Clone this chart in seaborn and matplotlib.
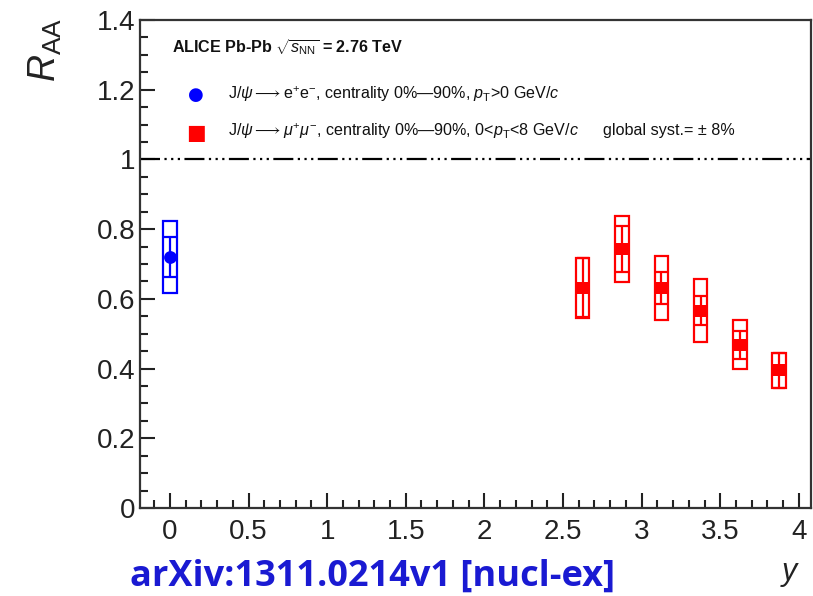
import numpy as np
import pandas as pd
import matplotlib
matplotlib.use("Agg")
import matplotlib.pyplot as plt
from matplotlib.patches import Rectangle
from matplotlib.ticker import MultipleLocator
import seaborn as sns

# ---- data ----
ee_y = [0.0]
ee_raa = [0.72]
ee_stat = [0.058]
ee_sys = [0.104]

mm_y = [2.625, 2.875, 3.125, 3.375, 3.625, 3.875]
mm_raa = [0.632, 0.743, 0.631, 0.566, 0.468, 0.395]
mm_stat = [0.085, 0.065, 0.046, 0.042, 0.040, 0.050]
mm_sys = [0.086, 0.096, 0.093, 0.090, 0.070, 0.050]

xticks = [0, 0.5, 1, 1.5, 2, 2.5, 3, 3.5, 4]
xticklabels = ["0", "0.5", "1", "1.5", "2", "2.5", "3", "3.5", "4"]
yticks = [0, 0.2, 0.4, 0.6, 0.8, 1.0, 1.2, 1.4]
yticklabels = ["0", "0.2", "0.4", "0.6", "0.8", "1", "1.2", "1.4"]

sns.set_style("ticks")
plt.rcParams['font.family'] = ['Liberation Sans', 'DejaVu Sans']
plt.rcParams['mathtext.fontset'] = 'custom'
plt.rcParams['mathtext.rm'] = 'Liberation Sans'
plt.rcParams['mathtext.it'] = 'Liberation Sans:italic'
plt.rcParams['mathtext.bf'] = 'Liberation Sans:bold'

W, H = 813, 596
fig = plt.figure(figsize=(W / 100, H / 100), dpi=100)
ax = fig.add_axes([140 / W, 1 - 508 / H, (811 - 140) / W, (508 - 20) / H])

BLUE = '#0000ff'
RED = '#ff0000'
bw = 0.043

df_ee = pd.DataFrame({'y': ee_y, 'raa': ee_raa})
df_mm = pd.DataFrame({'y': mm_y, 'raa': mm_raa})

# systematic boxes
for x, v, s in zip(ee_y, ee_raa, ee_sys):
    ax.add_patch(Rectangle((x - bw, v - s), 2 * bw, 2 * s, fill=False,
                           edgecolor=BLUE, linewidth=1.6, zorder=3))
for x, v, s in zip(mm_y, mm_raa, mm_sys):
    ax.add_patch(Rectangle((x - bw, v - s), 2 * bw, 2 * s, fill=False,
                           edgecolor=RED, linewidth=1.6, zorder=3))

# stat error bars
ax.errorbar(ee_y, ee_raa, yerr=ee_stat, fmt='none', ecolor=BLUE,
            elinewidth=1.6, capsize=4, capthick=1.6, zorder=4)
ax.errorbar(mm_y, mm_raa, yerr=mm_stat, fmt='none', ecolor=RED,
            elinewidth=1.6, capsize=4, capthick=1.6, zorder=4)

# markers
sns.scatterplot(data=df_ee, x='y', y='raa', ax=ax, marker='o', s=85,
                color=BLUE, edgecolor=BLUE, linewidth=0, zorder=5, legend=False)
sns.scatterplot(data=df_mm, x='y', y='raa', ax=ax, marker='s', s=80,
                color=RED, edgecolor=RED, linewidth=0, zorder=5, legend=False)

# reference line at 1
ax.axhline(1.0, color='black', linewidth=1.6,
           dashes=(9, 2, 1, 2, 1, 2, 1, 2), zorder=2)

ax.set_xlim(-0.19, 4.077)
ax.set_ylim(0, 1.4)
ax.set_xticks(xticks)
ax.set_xticklabels(xticklabels)
ax.set_yticks(yticks)
ax.set_yticklabels(yticklabels)
ax.xaxis.set_minor_locator(MultipleLocator(0.1))
ax.yaxis.set_minor_locator(MultipleLocator(0.05))
ax.tick_params(axis='both', which='major', direction='in', length=11,
               width=1.5, labelsize=20, labelcolor='#222222', color='#222222')
ax.tick_params(axis='both', which='minor', direction='in', length=6,
               width=1.5, color='#222222')
ax.tick_params(axis='x', which='major', pad=8)
ax.tick_params(axis='y', which='major', pad=3)
ax.set_xlabel('')
ax.set_ylabel('')
for side in ['left', 'bottom', 'top', 'right']:
    ax.spines[side].set_visible(True)
    ax.spines[side].set_linewidth(1.6)
    ax.spines[side].set_color('#333333')

# axis titles
fig.text(45 / W, 1 - 50 / H, r'$R_{\rm AA}$', rotation=90, ha='center',
         va='center', fontsize=27, color='#222222')
fig.text(790 / W, 1 - 574 / H, r'$y$', ha='center', va='center',
         fontsize=22, color='#222222')

# legend-like texts
LFS = 11.6
fig.text(172 / W, 1 - 47 / H, r'ALICE Pb-Pb $\sqrt{s_{\rm NN}}$ = 2.76 TeV',
         ha='left', va='center', fontsize=LFS, fontweight='bold', color='#111111')
fig.text(196 / W, 1 - 95 / H, '\u25cf', ha='center', va='center',
         fontsize=13, color=BLUE, family='DejaVu Sans')
fig.text(228 / W, 1 - 94 / H,
         r'J/$\psi\longrightarrow$e$^{+}$e$^{-}$, centrality 0%—90%, $p_{\rm T}$>0 GeV/$c$',
         ha='left', va='center', fontsize=LFS, color='#111111')
fig.text(196 / W, 1 - 133 / H, '\u25a0', ha='center', va='center',
         fontsize=15, color=RED, family='DejaVu Sans')
fig.text(228 / W, 1 - 131 / H,
         r'J/$\psi\longrightarrow\mu^{+}\mu^{-}$, centrality 0%—90%, 0<$p_{\rm T}$<8 GeV/$c$',
         ha='left', va='center', fontsize=LFS, color='#111111')
fig.text(603 / W, 1 - 131 / H, 'global syst.= \u00b1 8%',
         ha='left', va='center', fontsize=LFS, color='#111111')

# source note
fig.text(130 / W, 1 - 577 / H, 'arXiv:1311.0214v1 [nucl-ex]', ha='left',
         va='center', fontsize=26, fontweight='bold', color='#1a1ad2',
         family=['Open Sans', 'DejaVu Sans'])

fig.savefig('out.png', dpi=100)
